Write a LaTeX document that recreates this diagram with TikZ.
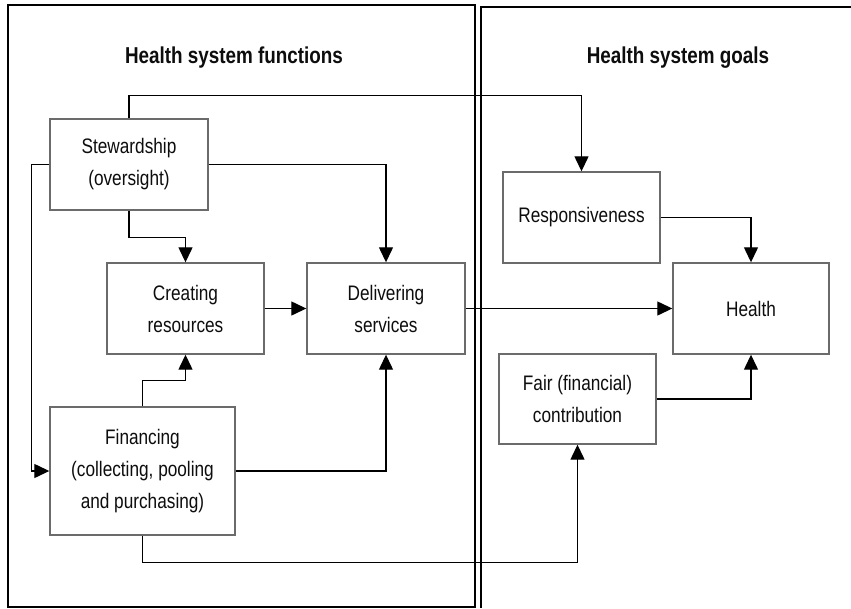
\documentclass[tikz,border=0pt]{standalone}
\usepackage{fontspec}
\setmainfont{Liberation Sans}[FakeStretch=0.82]
\usetikzlibrary{arrows.meta}
\definecolor{boxline}{rgb}{0.42,0.42,0.42}
\definecolor{ink}{rgb}{0.05,0.05,0.05}
\begin{document}
\begin{tikzpicture}[x=1pt,y=-1pt,
  fbox/.style={draw=boxline, line width=1.4pt, fill=white, text=ink, align=center,
    inner sep=0pt, font=\fontsize{21}{32}\selectfont},
  arr/.style={draw=black, line width=1.3pt, -{Triangle[length=15pt,width=14pt]}},
  panel/.style={draw=black, line width=1.3pt},
  ttl/.style={font=\fontsize{23}{28}\selectfont\bfseries, text=ink}]
\useasboundingbox (0,0) rectangle (851,608);

% the two panels
\draw[panel] (8,5) rectangle (475,607);
\draw[panel] (851,7) -- (481,7) -- (481,608);

\node[ttl] (tf) at (234,58) {Health system functions};
\node[ttl] (tg) at (678,58) {Health system goals};

% functions
\node[fbox, minimum width=158pt, minimum height=91pt] (stew) at (129,164.5) {Stewardship\\(oversight)};
\node[fbox, minimum width=157pt, minimum height=91pt] (creat) at (185.5,308.5) {Creating\\resources};
\node[fbox, minimum width=158pt, minimum height=91pt] (deliv) at (386,308.5) {Delivering\\services};
\node[fbox, minimum width=185pt, minimum height=128pt] (fin) at (142.5,471) {Financing\\(collecting, pooling\\and purchasing)};

% goals
\node[fbox, minimum width=157pt, minimum height=91pt] (resp) at (581.5,217.5) {Responsiveness};
\node[fbox, minimum width=156pt, minimum height=91pt] (health) at (751,308.5) {Health};
\node[fbox, minimum width=157pt, minimum height=90pt] (fair) at (577.5,399) {Fair (financial)\\contribution};

% connectors
\draw[arr] (stew.north) -- ++(0,-23) -| (resp.north);
\draw[arr] (stew.west) -- ++(-18,0) |- (fin.west);
\draw[arr] (stew.east) -| (deliv.north);
\draw[arr] (stew.south) -- ++(0,27) -| (creat.north);
\draw[arr] (creat.east) -- (deliv.west);
\draw[arr] (fin.north) -- ++(0,-26) -| (creat.south);
\draw[arr] (fin.east) -| (deliv.south);
\draw[arr] (fin.south) -- ++(0,27) -| (fair.south);
\draw[arr] (deliv.east) -- (health.west);
\draw[arr] (resp.east) -| (health.north);
\draw[arr] (fair.east) -| (health.south);
\end{tikzpicture}
\end{document}
